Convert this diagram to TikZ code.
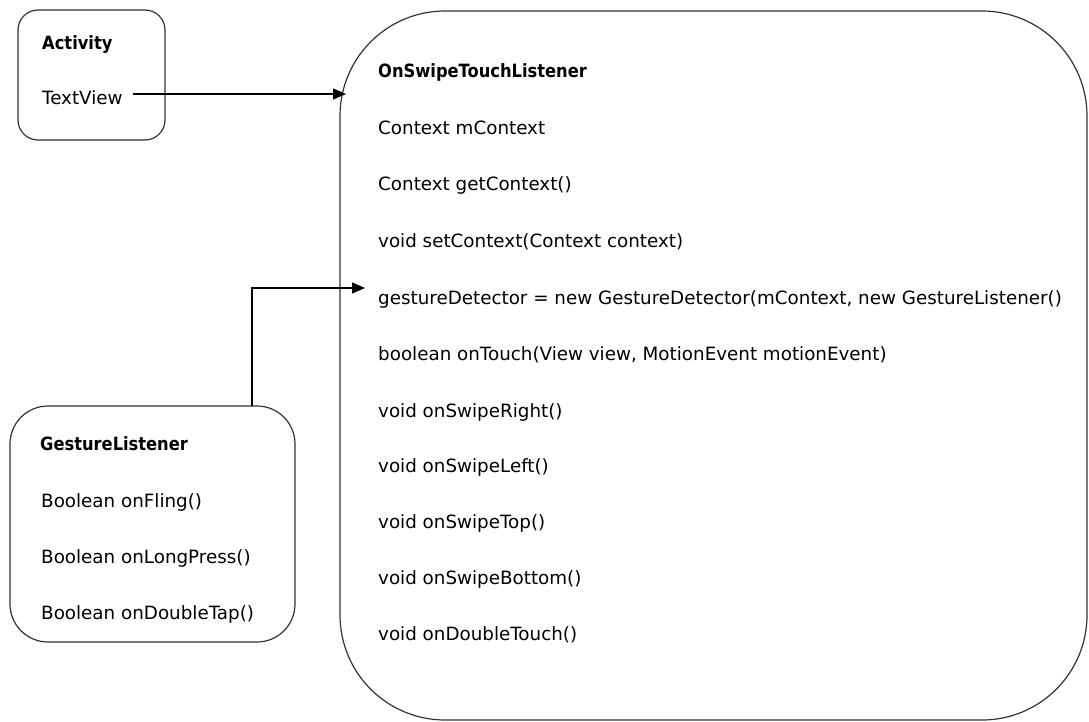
\documentclass[tikz,border=0pt]{standalone}
\usepackage{fontspec}
\setmainfont{DejaVu Sans}
\newfontfamily\headfont[FakeStretch=0.89]{DejaVu Sans}
\usetikzlibrary{arrows.meta}
\begin{document}
\begin{tikzpicture}[x=1pt,y=-1pt,
  box/.style={draw=black!80, line width=1.2pt, inner sep=0pt, outer sep=0pt},
  txt/.style={anchor=base west, inner sep=0pt, font=\fontsize{18.3}{20}\selectfont},
  head/.style={txt, font=\headfont\bfseries\fontsize{18.3}{20}\selectfont},
  conn/.style={draw=black, line width=1.3pt, -{Triangle[length=13pt,width=11pt]}}]
\useasboundingbox (0,0) rectangle (1089,722);

% class boxes
\node[box, rounded corners=20pt, minimum width=147pt, minimum height=130pt] (act) at (91.5,75) {};
\node[box, rounded corners=38pt, minimum width=285pt, minimum height=236pt] (gl) at (152.5,524) {};
\node[box, rounded corners=105pt, minimum width=747pt, minimum height=709pt] (ost) at (713.5,365.5) {};

% Activity
\node[head] (actT) at (42,50) {Activity};
\node[txt] (tv) at (42,105) {TextView};

% GestureListener
\node[head] (glT) at (40,450) {GestureListener};
\node[txt] (fling) at (41,507) {Boolean onFling()};
\node[txt] (press) at (41,563) {Boolean onLongPress()};
\node[txt] (dtap) at (41,619) {Boolean onDoubleTap()};

% OnSwipeTouchListener
\node[head] (ostT) at (378,78) {OnSwipeTouchListener};
\node[txt] (mctx) at (378,135) {Context mContext};
\node[txt] (gctx) at (378,191) {Context getContext()};
\node[txt] (sctx) at (378,247) {void setContext(Context context)};
\node[txt] (gd) at (378,304) {gestureDetector = new GestureDetector(mContext, new GestureListener()};
\node[txt] (touch) at (378,360) {boolean onTouch(View view, MotionEvent motionEvent)};
\node[txt] (sr) at (378,417) {void onSwipeRight()};
\node[txt] (sl) at (378,472) {void onSwipeLeft()};
\node[txt] (st) at (378,528) {void onSwipeTop()};
\node[txt] (sb) at (378,584) {void onSwipeBottom()};
\node[txt] (dt) at (378,640) {void onDoubleTouch()};

% connectors
\draw[conn] ([xshift=10pt,yshift=11pt]tv.base east) -- ([xshift=6pt,yshift=11pt]tv.base east -| ost.west);
\draw[conn] ([xshift=99.5pt]gl.north) |- ([xshift=-13pt,yshift=16pt]gd.base west);
\end{tikzpicture}
\end{document}
